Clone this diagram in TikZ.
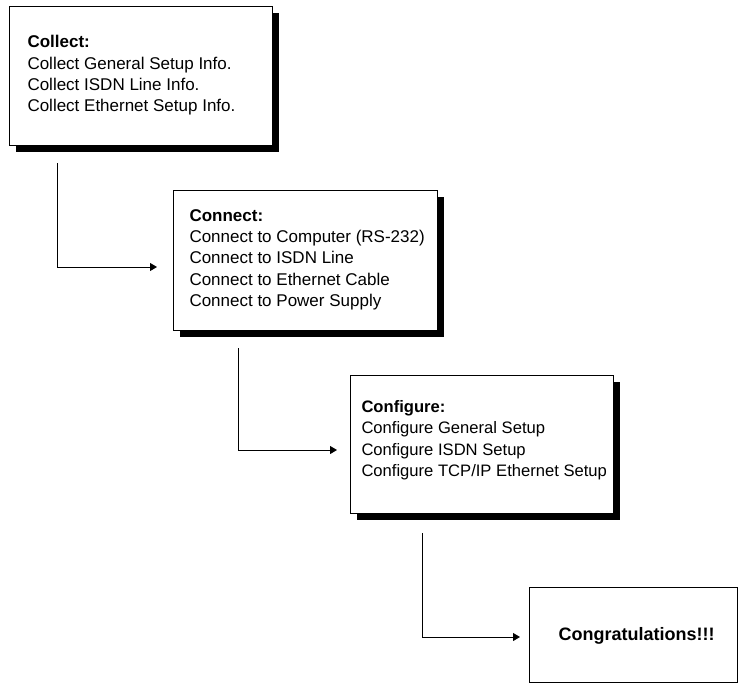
\documentclass[tikz,border=0pt]{standalone}
\usepackage{fontspec}
\setmainfont{Liberation Sans}
\usetikzlibrary{arrows.meta}
\usetikzlibrary{shadows}

\begin{document}
\begin{tikzpicture}[x=1pt,y=-1pt,line width=1pt,
    stepbox/.style={draw,fill=white,anchor=north west,inner sep=0pt},
    shadowed/.style={general shadow={fill=black,shadow xshift=6pt,shadow yshift=-6pt}},
    steptext/.style={anchor=north west,inner sep=0pt,align=left,font=\fontsize{17}{21.3}\selectfont},
    flow/.style={-{Triangle[length=7pt,width=8pt]}}]
    \useasboundingbox (0,0) rectangle (739,683);
    % boxes
    \node[stepbox,shadowed,minimum width=263pt,minimum height=139pt] (collect) at (9,6) {};
    \node[stepbox,shadowed,minimum width=264pt,minimum height=140pt] (connect) at (173,190) {};
    \node[stepbox,shadowed,minimum width=263pt,minimum height=138pt] (configure) at (350,375) {};
    \node[stepbox,minimum width=208pt,minimum height=95pt] (congrats) at (529,587) {};
    % texts
    \node[steptext] (collecttxt) at (27,35) {\textbf{Collect:}\\Collect General Setup Info.\\Collect ISDN Line Info.\\Collect Ethernet Setup Info.};
    \node[steptext] (connecttxt) at (189,209) {\textbf{Connect:}\\Connect to Computer (RS-232)\\Connect to ISDN Line\\Connect to Ethernet Cable\\Connect to Power Supply};
    \node[steptext,font=\fontsize{16.6}{21.3}\selectfont] (configuretxt) at (361,400) {\textbf{Configure:}\\Configure General Setup\\Configure ISDN Setup\\Configure TCP/IP Ethernet Setup};
    \node[font=\fontsize{18}{21.3}\selectfont\bfseries] (congratstxt) at ([xshift=3pt,yshift=-1pt]congrats.center) {Congratulations!!!};
    % connectors
    \coordinate (a1) at (57,163);  \coordinate (b1) at (157,267);
    \coordinate (a2) at (238,348); \coordinate (b2) at (337,450);
    \coordinate (a3) at (422,533); \coordinate (b3) at (520,637);
    \foreach \i in {1,2,3}{
      \draw[flow] (a\i) |- (b\i);
    };
\end{tikzpicture}
\end{document}
